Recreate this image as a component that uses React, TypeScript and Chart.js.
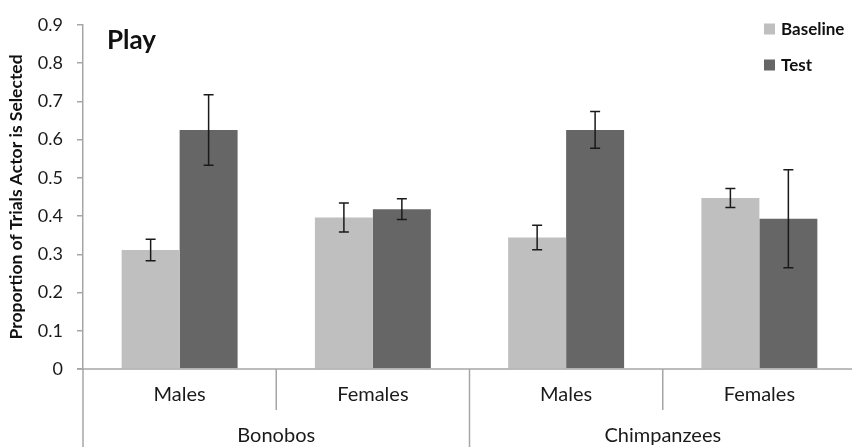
import React, { useEffect, useRef } from "react";
import { Chart, registerables } from "chart.js";

Chart.register(...registerables);

const categories = ["Males", "Females", "Males", "Females"];
const groups = ["Bonobos", "Chimpanzees"];
const groupSpans = [2, 2];
const baseline = [0.311, 0.396, 0.344, 0.447];
const baselineErr = [0.028, 0.038, 0.032, 0.025];
const test = [0.625, 0.418, 0.625, 0.393];
const testErr = [0.092, 0.027, 0.048, 0.128];
const seriesNames = ["Baseline", "Test"];
const chartTitle = "Play";
const yTitle = "Proportion of Trials Actor is Selected";

const FONT = "Lato, 'Open Sans', sans-serif";
const GRAY = "#a6a6a6";
const C_BASE = "#bfbfbf";
const C_TEST = "#666666";

export default function App() {
  const ref = useRef<HTMLCanvasElement>(null);
  useEffect(() => {
    document.body.style.margin = "0";
    const errs = [baselineErr, testErr];
    const overlay = {
      id: "overlay",
      afterDatasetsDraw(chart: any) {
        const ctx = chart.ctx;
        const y = chart.scales.y;
        ctx.save();
        ctx.strokeStyle = "#1a1a1a";
        ctx.lineWidth = 1.5;
        [0, 1].forEach((di) => {
          const meta = chart.getDatasetMeta(di);
          const vals = chart.data.datasets[di].data as number[];
          meta.data.forEach((bar: any, i: number) => {
            const x = bar.x;
            const top = y.getPixelForValue(vals[i] + errs[di][i]);
            const bot = y.getPixelForValue(vals[i] - errs[di][i]);
            ctx.beginPath();
            ctx.moveTo(x, top);
            ctx.lineTo(x, bot);
            ctx.moveTo(x - 5, top);
            ctx.lineTo(x + 5, top);
            ctx.moveTo(x - 5, bot);
            ctx.lineTo(x + 5, bot);
            ctx.stroke();
          });
        });
        ctx.restore();
      },
      afterDraw(chart: any) {
        const ctx = chart.ctx;
        const xs = chart.scales.x;
        const area = chart.chartArea;
        const H = chart.height;
        ctx.save();
        ctx.strokeStyle = GRAY;
        ctx.lineWidth = 1.5;
        ctx.beginPath();
        ctx.moveTo(area.left - 6, area.bottom);
        ctx.lineTo(area.right, area.bottom);
        ctx.stroke();
        ctx.beginPath();
        ctx.moveTo(area.left, area.bottom);
        ctx.lineTo(area.left, H);
        ctx.stroke();
        const n = categories.length;
        const step = xs.getPixelForValue(1) - xs.getPixelForValue(0);
        let idx = 0;
        groupSpans.forEach((span, gi) => {
          for (let k = 1; k < span; k++) {
            const bx = xs.getPixelForValue(idx + k) - step / 2;
            ctx.beginPath();
            ctx.moveTo(bx, area.bottom);
            ctx.lineTo(bx, area.bottom + 41);
            ctx.stroke();
          }
          idx += span;
          if (gi < groupSpans.length - 1) {
            const bx = xs.getPixelForValue(idx) - step / 2;
            ctx.beginPath();
            ctx.moveTo(bx, area.bottom);
            ctx.lineTo(bx, H);
            ctx.stroke();
          }
        });
        ctx.fillStyle = "#1a1a1a";
        ctx.textAlign = "center";
        ctx.textBaseline = "middle";
        ctx.font = `20px ${FONT}`;
        for (let i = 0; i < n; i++) {
          ctx.fillText(categories[i], xs.getPixelForValue(i), area.bottom + 26);
        }
        idx = 0;
        groupSpans.forEach((span, gi) => {
          const l = xs.getPixelForValue(idx) - step / 2;
          const r = xs.getPixelForValue(idx + span - 1) + step / 2;
          ctx.fillText(groups[gi], (l + r) / 2, area.bottom + 67);
          idx += span;
        });
        ctx.textAlign = "left";
        ctx.textBaseline = "alphabetic";
        ctx.font = `bold 26px ${FONT}`;
        ctx.fillStyle = "#111";
        ctx.fillText(chartTitle, 107, 49);
        const cols = [C_BASE, C_TEST];
        const ly = [29, 65];
        ctx.font = `bold 17px ${FONT}`;
        ctx.textBaseline = "middle";
        seriesNames.forEach((s, i) => {
          ctx.fillStyle = cols[i];
          ctx.fillRect(764, ly[i] - 5.5, 11, 11);
          ctx.fillStyle = "#111";
          ctx.fillText(s, 781, ly[i] + 1);
        });
        ctx.restore();
      },
    };
    const chart = new Chart(ref.current!, {
      type: "bar",
      data: {
        labels: categories,
        datasets: [
          { label: seriesNames[0], data: baseline, backgroundColor: C_BASE },
          { label: seriesNames[1], data: test, backgroundColor: C_TEST },
        ],
      },
      options: {
        animation: false,
        responsive: true,
        maintainAspectRatio: false,
        layout: { padding: { top: 19, right: 0, left: 0, bottom: 0 } },
        plugins: { legend: { display: false }, tooltip: { enabled: false } },
        datasets: { bar: { categoryPercentage: 0.6, barPercentage: 1 } },
        scales: {
          x: {
            grid: { display: false },
            border: { display: false },
            ticks: { display: false },
            afterFit: (s: any) => {
              s.height = 78;
            },
          },
          y: {
            min: 0,
            max: 0.9,
            afterFit: (s: any) => {
              s.width = 83;
            },
            ticks: {
              stepSize: 0.1,
              padding: 14,
              color: "#1a1a1a",
              font: { family: FONT, size: 18 },
              callback: (v: any) => (Number(v) === 0 ? "0" : Number(v).toFixed(1)),
            },
            grid: {
              display: true,
              drawOnChartArea: false,
              drawTicks: true,
              tickLength: 6,
              color: GRAY,
              lineWidth: 1.5,
            },
            border: { display: true, color: GRAY, width: 1.5 },
            title: {
              display: true,
              text: yTitle,
              color: "#111",
              font: { family: FONT, size: 17.5, weight: "bold" },
              padding: { top: 6, bottom: 0 },
            },
          },
        },
      },
      plugins: [overlay],
    });
    return () => chart.destroy();
  }, []);
  return (
    <div style={{ position: "fixed", left: 0, top: 0, width: 852, height: 447, overflow: "hidden", background: "#fff" }}>
      <div style={{ position: "relative", width: 856, height: 447 }}>
        <canvas ref={ref} />
      </div>
    </div>
  );
}
